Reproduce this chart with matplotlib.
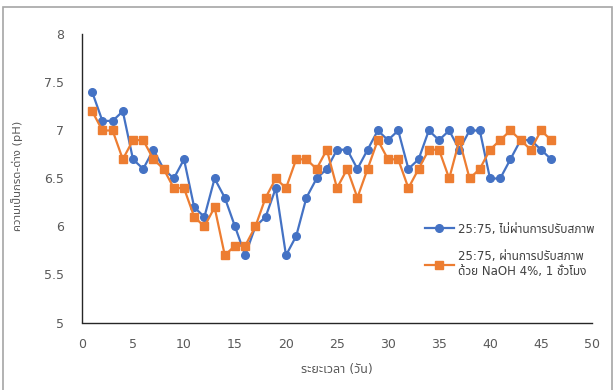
import matplotlib
matplotlib.use('Agg')
import matplotlib.pyplot as plt
from matplotlib import font_manager
from matplotlib.ft2font import FT2Font
from matplotlib.patches import Rectangle

# pH readings per day, two pretreatment conditions
days = list(range(1, 47))
ph_untreated = [7.4, 7.1, 7.1, 7.2, 6.7, 6.6, 6.8, 6.6, 6.5, 6.7,
                6.2, 6.1, 6.5, 6.3, 6.0, 5.7, 6.0, 6.1, 6.4, 5.7,
                5.9, 6.3, 6.5, 6.6, 6.8, 6.8, 6.6, 6.8, 7.0, 6.9,
                7.0, 6.6, 6.7, 7.0, 6.9, 7.0, 6.8, 7.0, 7.0, 6.5,
                6.5, 6.7, 6.9, 6.9, 6.8, 6.7]
ph_naoh = [7.2, 7.0, 7.0, 6.7, 6.9, 6.9, 6.7, 6.6, 6.4, 6.4,
           6.1, 6.0, 6.2, 5.7, 5.8, 5.8, 6.0, 6.3, 6.5, 6.4,
           6.7, 6.7, 6.6, 6.8, 6.4, 6.6, 6.3, 6.6, 6.9, 6.7,
           6.7, 6.4, 6.6, 6.8, 6.8, 6.5, 6.9, 6.5, 6.6, 6.8,
           6.9, 7.0, 6.9, 6.8, 7.0, 6.9]

label_a = "25:75, ไม่ผ่านการปรับสภาพ"
label_b = "25:75, ผ่านการปรับสภาพ\nด้วย NaOH 4%, 1 ชั่วโมง"
xlabel = "ระยะเวลา (วัน)"
ylabel = "ความเป็นกรด-ด่าง (pH)"

preferred = ['Noto Sans Thai', 'Noto Sans Thai UI', 'Loma', 'Garuda', 'Waree',
             'Umpush', 'Sawasdee', 'Tlwg Typo', 'Norasi', 'Kinnari', 'Laksaman']


def find_thai_font():
    # collect installed fonts that can draw Thai, prefer sans faces
    found = []
    for path in font_manager.findSystemFonts():
        try:
            f = FT2Font(path)
            if f.get_char_index(ord('ก')) and f.get_char_index(ord('5')):
                found.append(font_manager.FontProperties(fname=path).get_name())
        except Exception:
            continue
    for name in preferred:
        if name in found:
            return name
    return found[0] if found else None


thai = find_thai_font()
families = ['DejaVu Sans']
if thai:
    families = ['DejaVu Sans', thai]
plt.rcParams['font.family'] = families

blue = '#4472C4'
orange = '#ED7D31'
grey = '#595959'

fig = plt.figure(figsize=(6.16, 3.9), dpi=100)
ax = fig.add_axes([82 / 616, 1 - 322.5 / 390, 510 / 616, 288 / 390])

ax.plot(days, ph_untreated, color=blue, lw=1.6, marker='o', ms=5.5, label=label_a)
ax.plot(days, ph_naoh, color=orange, lw=1.6, marker='s', ms=5.5, label=label_b)

ax.set_xlim(0, 50)
ax.set_ylim(5, 8)
ax.set_xticks(range(0, 51, 5))
ax.set_yticks([5, 5.5, 6, 6.5, 7, 7.5, 8])
ax.set_yticklabels(['5', '5.5', '6', '6.5', '7', '7.5', '8'])
ax.tick_params(length=0, labelsize=9, colors=grey)
ax.tick_params(axis='y', pad=13)
ax.tick_params(axis='x', pad=11)

for side in ['top', 'right']:
    ax.spines[side].set_visible(False)
for side in ['left', 'bottom']:
    ax.spines[side].set_color('#262626')
    ax.spines[side].set_linewidth(1.0)

ax.set_xlabel(xlabel, fontsize=9, color=grey, labelpad=9)
fig.text(17 / 616, 1 - 176 / 390, ylabel, rotation=90, fontsize=8.2,
         color=grey, ha='center', va='center')

leg = ax.legend(loc='upper left', bbox_to_anchor=((414 - 82) / 510, 1 - (212 - 34.5) / 288),
                frameon=False, fontsize=8.5, handlelength=2.5, labelspacing=1.25,
                handletextpad=0.3)
for t in leg.get_texts():
    t.set_color('#404040')

# outer frame of the chart area
fig.patches.append(Rectangle((3 / 616, -0.02), 609 / 616, 1 - 7 / 390 + 0.02,
                             transform=fig.transFigure, fill=False,
                             edgecolor='#A6A6A6', lw=1.2))

plt.savefig('out.png', dpi=100)
